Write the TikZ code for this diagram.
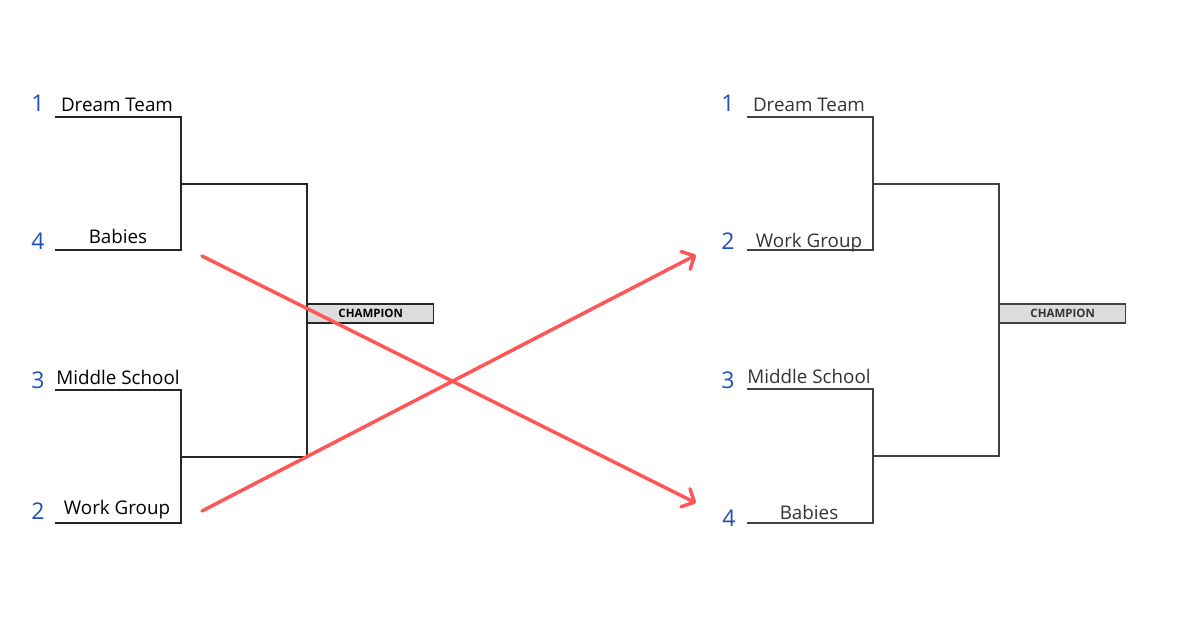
\documentclass[tikz,border=0pt]{standalone}
\usepackage{fontspec}
\setmainfont{Open Sans}
\usetikzlibrary{arrows.meta}
\definecolor{seedblue}{HTML}{1F4FB8}
\definecolor{arrowred}{HTML}{FF5757}
\definecolor{boxgray}{HTML}{DCDCDC}
\begin{document}
\begin{tikzpicture}[x=1pt,y=-1pt,
  bline/.style={line width=1.4pt,black!85},
  seed/.style={text=seedblue,font=\fontsize{23}{25}\selectfont,inner sep=0pt},
  team/.style={text=black,font=\fontsize{18.8}{20}\selectfont,inner sep=0pt,anchor=base},
  teamr/.style={text=black!80,font=\fontsize{18.8}{20}\selectfont,inner sep=0pt,anchor=base},
  champ/.style={draw=black!85,line width=1.4pt,fill=boxgray,minimum width=126pt,minimum height=19pt,inner sep=0pt,anchor=west,font=\bfseries\fontsize{11.5}{12}\selectfont},
  redarrow/.style={draw=arrowred,line width=3.5pt,line cap=round,-{Straight Barb[length=10pt,width=20pt,line cap=round,round]}}
]
\useasboundingbox (0,0) rectangle (1197,642);
% ---------- left bracket ----------
\coordinate (LA1) at (55,117); \coordinate (LA2) at (181,117);
\coordinate (LB1) at (55,250); \coordinate (LB2) at (181,250);
\coordinate (LC1) at (55,390); \coordinate (LC2) at (181,390);
\coordinate (LD1) at (55,523); \coordinate (LD2) at (181,523);
\coordinate (LM1) at (181,184); \coordinate (LM1e) at (307,184);
\coordinate (LM2) at (181,457); \coordinate (LM2e) at (307,457);
\draw[bline] (LA1) -- (LA2) -- (LB2) -- (LB1);
\draw[bline] (LC1) -- (LC2) -- (LD2) -- (LD1);
\draw[bline] (LM1) -- (LM1e) -- (LM2e) -- (LM2);
\node[champ] (LCH) at (307,313.5) {CHAMPION};
\node[seed] (ls1) at (38,103) {1};
\node[seed] (ls4) at (38,241) {4};
\node[seed] (ls3) at (38,380) {3};
\node[seed] (ls2) at (38,511) {2};
\node[team] (lt1) at (117,111) {Dream Team};
\node[team] (lt2) at (118,243) {Babies};
\node[team] (lt3) at (118,384) {Middle School};
\node[team] (lt4) at (117,514) {Work Group};
% ---------- right bracket ----------
\coordinate (RA1) at (747,117); \coordinate (RA2) at (873,117);
\coordinate (RB1) at (747,250); \coordinate (RB2) at (873,250);
\coordinate (RC1) at (747,389); \coordinate (RC2) at (873,389);
\coordinate (RD1) at (747,523); \coordinate (RD2) at (873,523);
\coordinate (RM1) at (873,184); \coordinate (RM1e) at (999,184);
\coordinate (RM2) at (873,456); \coordinate (RM2e) at (999,456);
\draw[bline,black!75] (RA1) -- (RA2) -- (RB2) -- (RB1);
\draw[bline,black!75] (RC1) -- (RC2) -- (RD2) -- (RD1);
\draw[bline,black!75] (RM1) -- (RM1e) -- (RM2e) -- (RM2);
\node[champ,draw=black!75,text=black!80] (RCH) at (999,313.5) {CHAMPION};
\node[seed] (rs1) at (728,103) {1};
\node[seed] (rs2) at (728,241) {2};
\node[seed] (rs3) at (728,380) {3};
\node[seed] (rs4) at (729,518) {4};
\node[teamr] (rt1) at (809,111) {Dream Team};
\node[teamr] (rt2) at (809,247) {Work Group};
\node[teamr] (rt3) at (809,383) {Middle School};
\node[teamr] (rt4) at (809,519) {Babies};
% ---------- red arrows ----------
\coordinate (arA) at (202,256); \coordinate (arAe) at (696,503);
\coordinate (arB) at (202,511); \coordinate (arBe) at (696,255);
\draw[redarrow] (arA) -- (arAe);
\draw[redarrow] (arB) -- (arBe);
\end{tikzpicture}
\end{document}
